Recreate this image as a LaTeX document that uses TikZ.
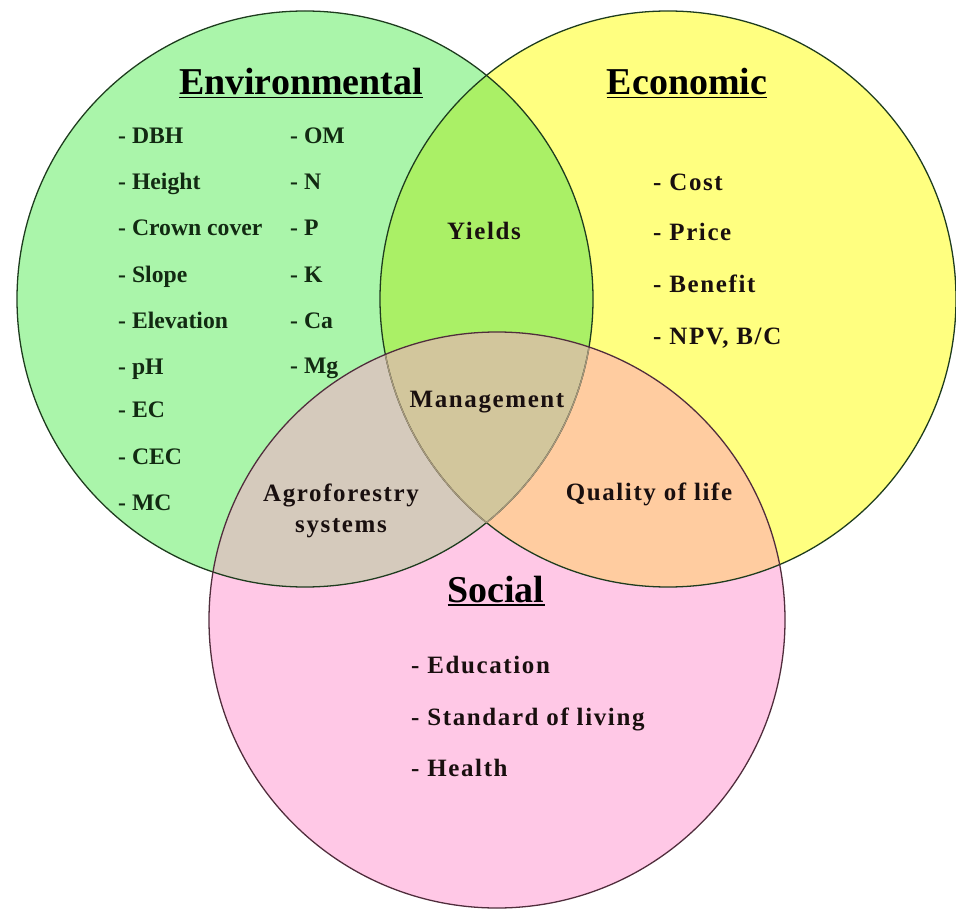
\documentclass[tikz,border=0pt]{standalone}
\usepackage{fontspec}
\setmainfont{Liberation Serif}
\newfontfamily\spacedfont[LetterSpace=6.5]{Liberation Serif}

\definecolor{envfill}{RGB}{170,245,170}
\definecolor{ecofill}{RGB}{255,255,128}
\definecolor{socfill}{RGB}{255,200,230}
\definecolor{yieldfill}{RGB}{170,240,102}
\definecolor{agrofill}{RGB}{213,202,188}
\definecolor{qualfill}{RGB}{255,204,160}
\definecolor{mgmtfill}{RGB}{210,198,156}
\definecolor{envrim}{RGB}{30,60,30}
\definecolor{socrim}{RGB}{80,45,60}
\definecolor{fadedrim}{RGB}{168,150,125}
\definecolor{envtext}{RGB}{18,42,18}
\definecolor{darktext}{RGB}{25,15,15}

\newcommand\headfont{\fontsize{32.4}{36}\selectfont\bfseries}
\newcommand\envfont{\fontsize{20.2}{22}\selectfont\bfseries}
\newcommand\labelfont{\spacedfont\fontsize{21.3}{24}\selectfont\bfseries}
\newcommand\ulhead[1]{\setbox0\hbox{#1}\rlap{\rule[-3.4pt]{\wd0}{1.5pt}}\box0}
\def\rad{288}

\tikzset{
  rim/.style={line width=1.1pt},
  headtext/.style={anchor=base, inner sep=0pt, text=black, font=\headfont},
  envitem/.style={anchor=base west, inner sep=0pt, text=envtext, font=\envfont},
  listitem/.style={anchor=base west, inner sep=0pt, text=darktext, font=\labelfont},
  zonetext/.style={anchor=base, inner sep=0pt, text=darktext, font=\labelfont}
}

\begin{document}
\begin{tikzpicture}[x=0.03cm, y=-0.03cm]
	\useasboundingbox (0,0) rectangle (956,909);
	
	\coordinate (env) at (305,299);
	\coordinate (eco) at (668,299);
	\coordinate (soc) at (497,620);
	
	% plain circles
	\fill[envfill] (env) circle (\rad);
	\fill[ecofill] (eco) circle (\rad);
	\fill[socfill] (soc) circle (\rad);
	
	% overlaps of two circles
	\begin{scope}
		\clip (env) circle (\rad);
		\fill[yieldfill] (eco) circle (\rad);
		\fill[agrofill] (soc) circle (\rad);
	\end{scope}
	\begin{scope}
		\clip (eco) circle (\rad);
		\fill[qualfill] (soc) circle (\rad);
	\end{scope}
	
	% overlap of all three
	\begin{scope}
		\clip (env) circle (\rad);
		\clip (eco) circle (\rad);
		\fill[mgmtfill] (soc) circle (\rad);
	\end{scope}
	
	% rims
	\draw[rim, envrim] (env) circle (\rad);
	\draw[rim, envrim] (eco) circle (\rad);
	\begin{scope}
		\clip (soc) circle (\rad);
		\clip (eco) circle (\rad);
		\draw[rim, fadedrim] (env) circle (\rad);
	\end{scope}
	\begin{scope}
		\clip (soc) circle (\rad);
		\clip (env) circle (\rad);
		\draw[rim, fadedrim] (eco) circle (\rad);
	\end{scope}
	\draw[rim, socrim] (soc) circle (\rad);
	
	% headings
	\node[headtext] (envtitle) at (301,94.5) {\ulhead{Environmental}};
	\node[headtext] (ecotitle) at (687,94.5) {\ulhead{Economic}};
	\node[headtext] (soctitle) at (496,602) {\ulhead{Social}};
	
	% environmental, first column
	\node[envitem] (dbh) at (118,143.5) {- DBH};
	\node[envitem] (height) at (118,189.5) {- Height};
	\node[envitem] (crown) at (118,235.5) {- Crown cover};
	\node[envitem] (slope) at (118,282.5) {- Slope};
	\node[envitem] (elev) at (118,328.5) {- Elevation};
	\node[envitem] (ph) at (118,374.5) {- pH};
	\node[envitem] (ec) at (118,417.5) {- EC};
	\node[envitem] (cec) at (118,464.5) {- CEC};
	\node[envitem] (mc) at (118,510.5) {- MC};
	
	% environmental, second column
	\node[envitem] (om) at (290,143.5) {- OM};
	\node[envitem] (nitro) at (290,189.5) {- N};
	\node[envitem] (phos) at (290,235.5) {- P};
	\node[envitem] (kal) at (290,282.5) {- K};
	\node[envitem] (calc) at (290,328.5) {- Ca};
	\node[envitem] (magn) at (290,373.5) {- Mg};
	
	% economic
	\node[listitem] (cost) at (653,191) {- Cost};
	\node[listitem] (price) at (653,241) {- Price};
	\node[listitem] (benefit) at (653,293) {- Benefit};
	\node[listitem] (npv) at (653,345) {- NPV, B/C};
	
	% social
	\node[listitem] (educ) at (411,673) {- Education};
	\node[listitem] (living) at (411,725) {- Standard of living};
	\node[listitem] (health) at (411,776) {- Health};
	
	% overlaps
	\node[zonetext] (yields) at (484,240) {Yields};
	\node[zonetext] (mgmt) at (487,408) {Management};
	\node[zonetext] (agro) at (341,501) {Agroforestry};
	\node[zonetext] (systems) at (341,532) {systems};
	\node[zonetext] (quality) at (649,500) {Quality of life};
	
\end{tikzpicture}
\end{document}
